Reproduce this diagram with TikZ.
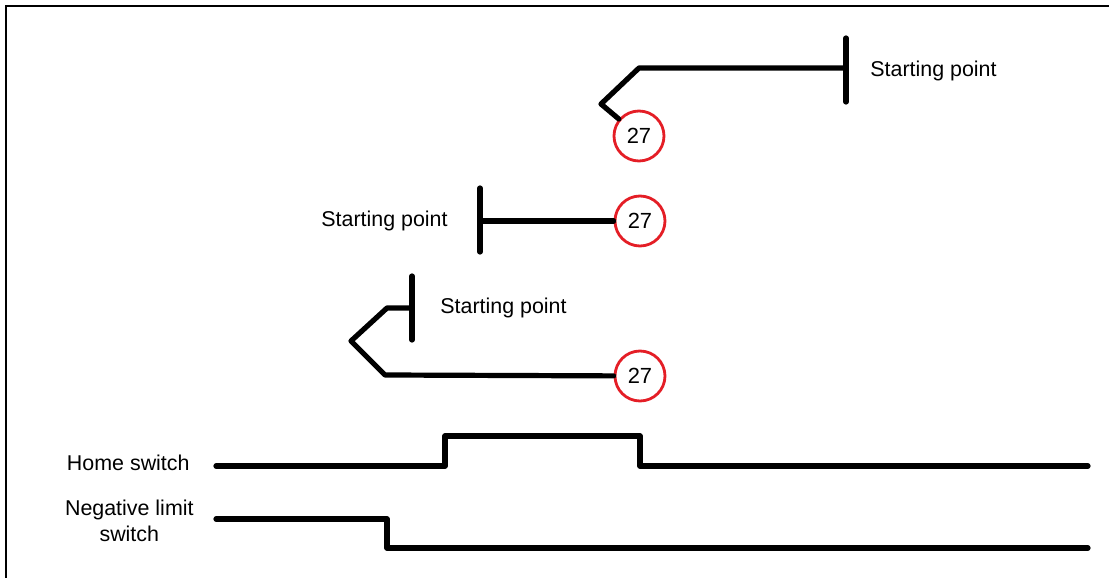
\documentclass[tikz,border=0pt]{standalone}
\usepackage{fontspec}
\setmainfont{Liberation Sans}
\usetikzlibrary{positioning}
\definecolor{mkred}{RGB}{228,30,38}

\begin{document}
\begin{tikzpicture}[x=0.5bp, y=-0.5bp,
  num/.style={draw=mkred, line width=1.4bp, circle, minimum size=25bp,
              inner sep=0pt, font=\fontsize{11}{12}\selectfont},
  lbl/.style={inner sep=0pt, align=center, font=\fontsize{10.75}{13}\selectfont},
  wire/.style={line width=2.6bp, line cap=round, line join=round},
  frm/.style={line width=0.8bp}]
\useasboundingbox (0,0) rectangle (1109,578);
\draw[frm] (1109,6) -- (6,6) -- (6,578);

% first run: from the right
\coordinate (s1) at (846,68);
\node[num] (c1) at (639,136) {27};
\node[lbl, right=12bp of s1, yshift=-1.5bp] (t1) {Starting point};
\draw[wire] (846,38) -- (846,102);
\draw[wire] (s1) -- ++(-207,0) -- ++(-38,36) -- (c1);

% second run: straight
\coordinate (s2) at (480,221);
\node[num] (c2) at (640,221) {27};
\node[lbl, left=16bp of s2] (t2) {Starting point};
\draw[wire] (480,188) -- (480,252);
\draw[wire] (s2) -- (c2);

% third run: back out and return
\coordinate (s3) at (412,308);
\node[num] (c3) at (640,376) {27};
\node[lbl, right=14bp of s3] (t3) {Starting point};
\draw[wire] (412,276) -- (412,340);
\draw[wire] (s3) -- ++(-25,0) -- ++(-36,33) -- ++(34,34) -- (c3);

% signals
\coordinate (hs) at (216,466);
\coordinate (ns) at (216,519);
\node[lbl, left=13bp of hs, yshift=1.5bp] (th) {Home switch};
\node[lbl, left=11bp of ns, yshift=-1bp] (tn) {Negative limit\\switch};
\draw[wire] (hs) -- (445,466) -- (445,436) -- (640,436) -- (640,466) -- (1088,466);
\draw[wire] (ns) -- (387,519) -- (387,548) -- (1088,548);
\end{tikzpicture}
\end{document}
